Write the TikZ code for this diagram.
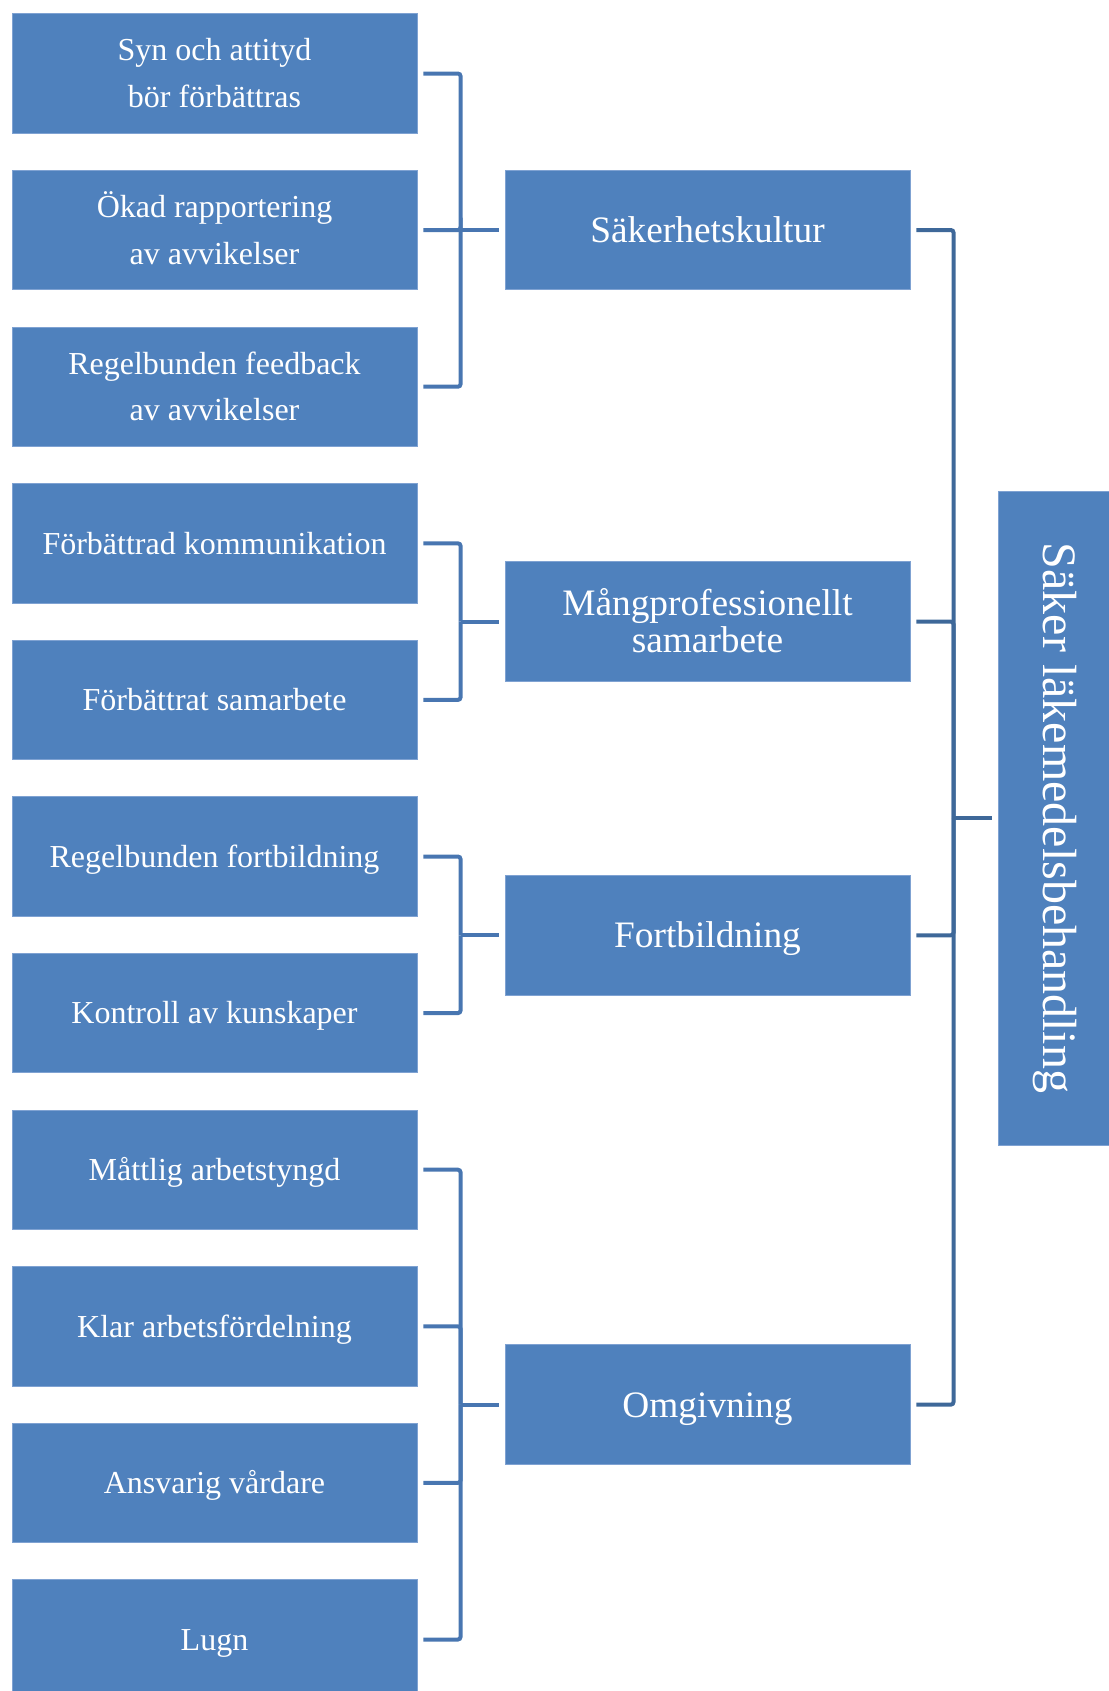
\documentclass[tikz,border=0pt]{standalone}
\usepackage{fontspec}
\setmainfont{Liberation Serif}
\usepackage{graphicx}
\usepackage{tikz}
\usetikzlibrary{calc}
\definecolor{cbox}{HTML}{4F81BD}
\definecolor{cedge}{HTML}{7FA2D2}
\definecolor{clink}{HTML}{4876B1}
\definecolor{cmain}{HTML}{3E6899}
\newcommand{\lnst}{\rule[-0.216em]{0pt}{1.107em}}
\newcommand{\topst}{\rule{0pt}{0.89em}}
\lineskiplimit=-10pt
\tikzset{
  box/.style={rectangle, fill=cbox, draw=cedge, line width=0.3pt, text=white, align=center, inner sep=0pt},
  leaf/.style={box, minimum width=151.9pt, minimum height=44.8pt, font=\fontsize{12}{17.5}\selectfont, execute at begin node=\lnst},
  area/.style={box, minimum width=151.9pt, minimum height=44.8pt, font=\fontsize{14}{14.1}\selectfont, execute at begin node=\lnst},
  goal/.style={box, minimum width=42.8pt, minimum height=245.3pt, font=\fontsize{18}{20}\selectfont},
  lnk/.style={draw=clink, line width=1.5pt, rounded corners=1pt},
  mainlnk/.style={lnk, draw=cmain},
}
\begin{document}
\begin{tikzpicture}[x=0.375pt,y=-0.375pt]
\useasboundingbox (0,0) rectangle (1109,1691);
% factors
\foreach \i/\t in {0/{\topst Syn och attityd\\bör förbättras}, 1/{\topst Ökad rapportering\\av avvikelser}, 2/{\topst Regelbunden feedback\\av avvikelser}, 3/{Förbättrad kommunikation}, 4/{Förbättrat samarbete}, 5/{Regelbunden fortbildning}, 6/{Kontroll av kunskaper}, 7/{Måttlig arbetstyngd}, 8/{Klar arbetsfördelning}, 9/{Ansvarig vårdare}, 10/{Lugn}}{
  \node[leaf] (L\i) at (214.5,73.5+156.6*\i) {\t};
}
% areas
\node[area] (M1) at (707.5,230) {Säkerhetskultur};
\node[area] (M2) at (707.5,621.6) {\topst Mångprofessionellt\\samarbete};
\node[area] (M3) at (707.5,935.3) {Fortbildning};
\node[area] (M4) at (707.5,1404.6) {Omgivning};
% goal
\node[goal] (G) at (1055,818) {\rotatebox{-90}{Säker läkemedelsbehandling}};
% brackets
\foreach \l/\m in {0/1,1/1,2/1,3/2,4/2,5/3,6/3,7/4,8/4,9/4,10/4}{
  \draw[lnk] ([xshift=2.25pt]L\l.east) -| ([xshift=-16.5pt]M\m.west);
}
\foreach \m in {1,...,4}{
  \draw[lnk] ([xshift=-16.5pt]M\m.west) -- ([xshift=-2.25pt]M\m.west);
  \draw[mainlnk] ([xshift=2.25pt]M\m.east) -| ([xshift=-16.5pt]G.west);
}
\draw[mainlnk] ([xshift=-16.5pt]G.west) -- ([xshift=-1.9pt]G.west);
\end{tikzpicture}
\end{document}
